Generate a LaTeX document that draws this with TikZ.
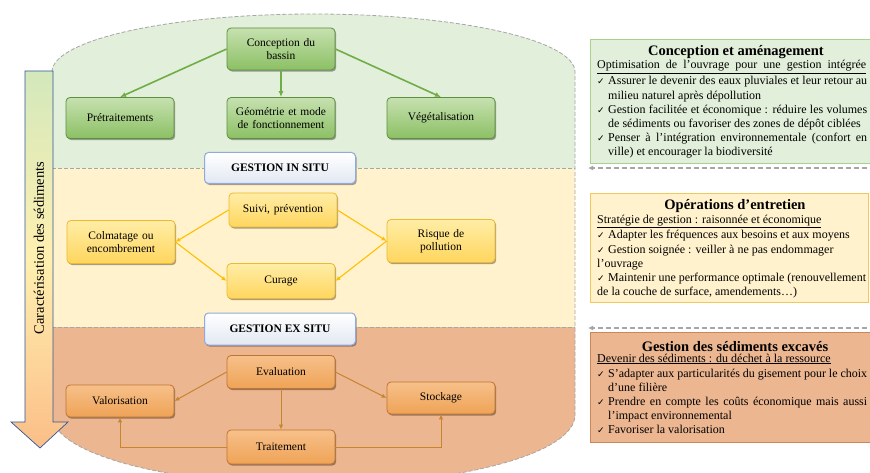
\documentclass[tikz,border=0pt]{standalone}
\usepackage{fontspec}
\setmainfont{Liberation Serif}
\newfontfamily\chkfont{DejaVu Sans}
\usetikzlibrary{arrows.meta,shadows}
\definecolor{bandG}{HTML}{E2EFDA}
\definecolor{bandY}{HTML}{FFF2CC}
\definecolor{bandO}{HTML}{ECB691}
\definecolor{gbd}{HTML}{5E8F3E}
\definecolor{gbt}{HTML}{C6E1B0}
\definecolor{gbb}{HTML}{8CC064}
\definecolor{ybd}{HTML}{EDB92E}
\definecolor{ybt}{HTML}{FFEDA6}
\definecolor{ybb}{HTML}{FFD65E}
\definecolor{obd}{HTML}{C07430}
\definecolor{obt}{HTML}{F7C08A}
\definecolor{obb}{HTML}{EFA356}
\definecolor{hbd}{HTML}{8FAADC}
\definecolor{hbb}{HTML}{E2E8F2}
\definecolor{garrc}{HTML}{70AD47}
\definecolor{yarrc}{HTML}{FFC000}
\definecolor{oarrc}{HTML}{C8842F}
\definecolor{dgray}{HTML}{A6A6A6}
\definecolor{p1d}{HTML}{A9D18E}
\definecolor{p2d}{HTML}{F2C75C}
\definecolor{p3d}{HTML}{C9875A}
\definecolor{arrT}{HTML}{D3E8BC}
\definecolor{arrM}{HTML}{FFF0B0}
\definecolor{arrB}{HTML}{FBBE88}
\definecolor{arrD}{HTML}{2F5597}
\newcommand\chkitem[1]{\par\hangindent=11pt\hangafter=1\noindent\makebox[11pt][l]{\chkfont\fontsize{9}{10}\selectfont ✓}#1\par}
\begin{document}
\begin{tikzpicture}[x=1pt,y=-1pt,
  shd/.style={drop shadow={shadow xshift=1.2pt,shadow yshift=-1.6pt,opacity=0.35,fill=black}},
  nb/.style={shd,rounded corners=4pt,line width=0.8pt,align=center,inner sep=2pt,text width=100pt,minimum width=108pt,font=\fontsize{11.5}{13.5}\selectfont},
  gbox/.style={nb,draw=gbd,top color=gbt,bottom color=gbb},
  ybox/.style={nb,draw=ybd,top color=ybt,bottom color=ybb},
  obox/.style={nb,draw=obd,top color=obt,bottom color=obb},
  hbox/.style={shd,rounded corners=4pt,line width=1pt,draw=hbd,top color=white,bottom color=hbb,minimum width=151pt,inner sep=2pt,font=\bfseries\fontsize{11.5}{13}\selectfont},
  garr/.style={draw=garrc,line width=1.6pt,-{Latex[length=6pt,width=5pt]}},
  yarr/.style={draw=yarrc,line width=1.1pt,-{Latex[length=5pt,width=4.5pt]}},
  oarr/.style={draw=oarrc,line width=1pt,-{Latex[length=5pt,width=4.5pt]}},
  darr/.style={draw=dgray,line width=1.5pt,dash pattern=on 5pt off 3pt,-{Latex[length=5pt,width=5pt]}},
  ptitle/.style={anchor=base,inner sep=0pt,font=\bfseries\fontsize{14.5}{16}\selectfont},
  psub/.style={anchor=base west,inner sep=0pt,font=\fontsize{12}{14.2}\selectfont},
  pbody/.style={anchor=base west,inner sep=0pt,font=\fontsize{12}{14.2}\selectfont}
]
\path[use as bounding box] (0,0) rectangle (870,473);
\clip (0,0) rectangle (870,473);
\fill[white] (0,0) rectangle (870,473);

% capsule with bands
\def\capsule{(52,72) arc[start angle=180,end angle=0,x radius=261.5pt,y radius=58pt] -- (575,415) arc[start angle=0,end angle=-180,x radius=261.5pt,y radius=70pt] -- cycle}
\begin{scope}
  \clip \capsule;
  \fill[bandG] (40,0) rectangle (590,168);
  \fill[bandY] (40,168) rectangle (590,327);
  \fill[bandO] (40,327) rectangle (590,500);
  \draw[dgray,line width=0.8pt,dash pattern=on 4pt off 2pt] (40,168) -- (590,168);
  \draw[dgray,line width=0.8pt,dash pattern=on 4pt off 2pt] (40,327) -- (590,327);
\end{scope}
\draw[dgray,line width=0.8pt,dash pattern=on 4pt off 2pt] \capsule;

% left arrow
\shade[top color=arrT,bottom color=arrB,middle color=arrM] (25,71) -- (53,71) -- (53,422) -- (68,422) -- (40,448) -- (11,422) -- (25,422) -- cycle;
\draw[arrD,line width=0.7pt,line join=miter] (25,71) -- (53,71) -- (53,422) -- (68,422) -- (40,448) -- (11,422) -- (25,422) -- cycle;
\node[rotate=90,inner sep=0pt,font=\fontsize{14.5}{16}\selectfont] (carac) at (39,248) {Caractérisation des sédiments};

% green part
\node[gbox,minimum height=42pt] (con) at (281,49) {Conception du\\bassin};
\node[gbox,minimum height=41pt] (pre) at (120,118) {Prétraitements};
\node[gbox,minimum height=41pt] (geo) at (281,118) {Géométrie et mode\\de fonctionnement};
\node[gbox,minimum height=41pt] (veg) at (441,118) {Végétalisation};
\draw[garr] (con.west) -- (pre.north);
\draw[garr] (con.south) -- (geo.north);
\draw[garr] (con.east) -- (veg.north);

% yellow part
\node[hbox,minimum height=31pt] (ins) at (280,168) {GESTION IN SITU};
\node[ybox,minimum height=34pt] (sui) at (283,210) {Suivi, prévention};
\node[ybox,minimum height=43pt] (col) at (121,242) {Colmatage ou\\encombrement};
\node[ybox,minimum height=43pt] (ris) at (441,241) {Risque de\\pollution};
\node[ybox,minimum height=35pt] (cur) at (281,281) {Curage};
\draw[yarr] (sui.west) -- (col.east);
\draw[yarr] (col.east) -- (cur.west);
\draw[yarr] (sui.east) -- (ris.west);
\draw[yarr] (ris.west) -- (cur.east);

% orange part
\node[hbox,minimum height=32pt] (exs) at (280,329) {GESTION EX SITU};
\node[obox,minimum height=33pt] (eva) at (281,372) {Evaluation};
\node[obox,minimum height=32pt] (val) at (120,401) {Valorisation};
\node[obox,minimum height=32pt] (sto) at (441,398) {Stockage};
\node[obox,minimum height=34pt] (tra) at (281,447) {Traitement};
\draw[oarr] (eva.west) -- (val.east);
\draw[oarr] (eva.east) -- (sto.west);
\draw[oarr] (eva.south) -- (tra.north);
\draw[oarr] (tra.west) -| (val.south);
\draw[oarr] (tra.east) -| (sto.south);

% right panels
\fill[bandG] (590,39) rectangle (885,163);
\draw[p1d,line width=0.8pt] (590,39) rectangle (885,163);
\fill[bandY] (590,193) rectangle (868,302);
\draw[p2d,line width=0.8pt] (590,193) rectangle (868,302);
\fill[bandO] (590,332) rectangle (885,442);
\draw[p3d,line width=0.6pt] (590,332) rectangle (885,442);

\node[ptitle] (t1) at (736,56) {Conception et aménagement};
\node[psub] (s1) at (597,69) {\underline{\makebox[269pt][s]{Optimisation de l’ouvrage pour une gestion intégrée}}};
\node[pbody] (b1) at (597,85) {\parbox[t]{270pt}{\fontsize{12}{14.2}\selectfont
\chkitem{Assurer le devenir des eaux pluviales et leur retour au\linebreak milieu naturel après dépollution}
\chkitem{Gestion facilitée et économique : réduire les volumes\linebreak de sédiments ou favoriser des zones de dépôt ciblées}
\chkitem{Penser à l’intégration environnementale (confort en\linebreak ville) et encourager la biodiversité}}};

\node[ptitle] (t2) at (735,210) {Opérations d’entretien};
\node[psub] (s2) at (597,223) {\underline{Stratégie de gestion : raisonnée et économique}};
\node[pbody] (b2) at (597,239) {\parbox[t]{270pt}{\fontsize{12}{14.2}\selectfont\raggedright
\chkitem{Adapter les fréquences aux besoins et aux moyens}
\chkitem{Gestion soignée : veiller à ne pas endommager\\l’ouvrage}
\chkitem{Maintenir une performance optimale (renouvellement\\de la couche de surface, amendements…)}}};

\node[ptitle] (t3) at (735,351) {Gestion des sédiments excavés};
\node[psub] (s3) at (597,362) {\underline{Devenir des sédiments : du déchet à la ressource}};
\node[pbody] (b3) at (597,377) {\parbox[t]{270pt}{\fontsize{12}{14.2}\selectfont
\chkitem{S’adapter aux particularités du gisement pour le choix\linebreak d’une filière}
\chkitem{Prendre en compte les coûts économique mais aussi\linebreak l’impact environnemental}
\chkitem{Favoriser la valorisation}}};

% dashed arrows
\coordinate (d1s) at (875,168);
\coordinate (d1e) at (588,168);
\coordinate (d2s) at (875,328);
\coordinate (d2e) at (588,328);
\draw[darr] (d1s) -- (d1e);
\draw[darr] (d2s) -- (d2e);
\end{tikzpicture}
\end{document}
